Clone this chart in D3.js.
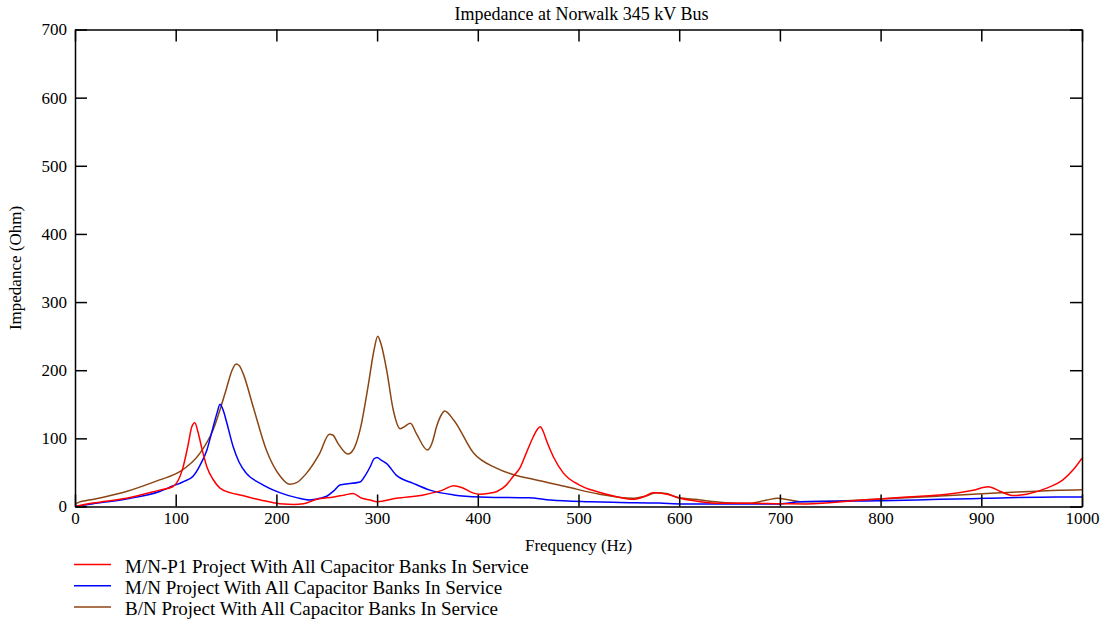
<!DOCTYPE html>
<html>
<head>
<meta charset="utf-8">
<script src="https://cdn.jsdelivr.net/npm/d3@7"></script>
<style>
  html, body { margin: 0; padding: 0; background: #fff; }
  svg text { font-family: "Liberation Serif", "Times New Roman", serif; fill: #000; }
</style>
</head>
<body>
<svg id="chart" width="1105" height="624"></svg>
<script>
// Frequency scan results: [frequency (Hz), impedance magnitude (Ohm)]
const seriesNames = [
  "M/N-P1 Project With All Capacitor Banks In Service",
  "M/N Project With All Capacitor Banks In Service",
  "B/N Project With All Capacitor Banks In Service"
];
const seriesColors = ["#ff0000", "#0000ff", "#8b4513"];

const mnp1Scan = [
  [0,0],[18,5],[51,12],[84,24],[97,29],[107,56],[112,88],[116,117],[119,123],[122,110],
  [126,85],[131,58],[137,40],[144,27],[155,20],[164,17],[180,11],[197,5.6],[207,3.5],[217,3],
  [227,4],[240,10.5],[257,14],[268,17],[276,19],[285,12],[293,9.5],[300,7],[319,12],[346,17],
  [365,24],[376,30.5],[384,28],[395,20],[402,18],[410,19],[419,22],[428,31],[435,44],[442,57],
  [448,78],[455,102],[459,113],[462,117],[465,110],[468,97.6],[475,73],[485,49],[501,31.5],[518,22],
  [535,15.4],[554,10.5],[566,15],[574,20],[588,18],[601,12],[621,7],[640,4.7],[670,4.7],[700,4],
  [726,3.7],[783,9.5],[826,14],[866,18],[892,24],[907,29],[919,22],[932,16],[945,18],[965,27],
  [981,39],[991,53.5],[1000,71]
];

const mnScan = [
  [0,0],[18,4],[51,11],[84,22],[97,30],[107,36],[117,44],[124,60],[131,83],[136,110],
  [141,137],[144,150],[147,142],[150,127],[157,88],[163,65],[170,49],[184,34],[204,20],[220,13],
  [233,9.5],[243,12],[250,15],[257,23],[263,31.5],[283,36],[288,45],[293,58],[297,70],[300,72],
  [304,68],[309.5,63],[319,46],[336,34],[352.5,24],[376,17],[402,14],[442,13],[450,13],[472,9.5],
  [511,7],[541,6],[580,5],[604,3.7],[670,3.7],[700,3.7],[720,7],[800,8.5],[859,10.5],[905,12],
  [975,14],[1000,14]
];

const bnScan = [
  [0,3],[2,5],[20,11],[51,22],[84,39],[104,51],[124,78],[137,112],[150,171],[156,200],
  [160,209],[163,207],[167,195],[177,146],[190,83],[204,44],[213,32.5],[220,35],[230,49],[243,78],
  [252.6,106],[256,105],[261,93],[271,77],[277,85],[283,112],[291,176],[297,230],[300.6,250],[304,238],
  [309.5,200],[316,142],[323,114],[328,118],[333,122],[339,107],[350,83],[355,95],[359,117],[364,135],
  [367,140],[376,127],[396,78],[419,56],[442,44],[455,40],[488,29],[521,18],[554,12],[566,15],
  [577,20],[587,19],[597,14],[621,9.5],[647,5.6],[670,4.7],[687,9.5],[698,12],[708,10],[720,7],
  [766,8.5],[800,11],[859,15.4],[919,20],[978,24],[1000,24.5]
];

const xTicks = [0, 100, 200, 300, 400, 500, 600, 700, 800, 900, 1000];
const yTicks = [0, 100, 200, 300, 400, 500, 600, 700];

const titleText = "Impedance at Norwalk 345 kV Bus";
const xLabelText = "Frequency (Hz)";
const yLabelText = "Impedance (Ohm)";

// ---- layout ----
const svg = d3.select("#chart");
const plot = { left: 75, right: 1082, top: 29.5, bottom: 506.5 };
const tickLen = 12;

const x = d3.scaleLinear().domain([0, 1000]).range([plot.left, plot.right]);
const y = d3.scaleLinear().domain([0, 700]).range([plot.bottom, plot.top]);

// ---- curves (clipped to plot box) ----
svg.append("clipPath").attr("id", "plotClip")
  .append("rect")
  .attr("x", plot.left).attr("y", plot.top)
  .attr("width", plot.right - plot.left).attr("height", plot.bottom - plot.top);

const line = d3.line()
  .x(d => x(d[0]))
  .y(d => y(d[1]))
  .curve(d3.curveMonotoneX);

const allSeries = [mnp1Scan, mnScan, bnScan];
const curves = svg.append("g").attr("clip-path", "url(#plotClip)");
// brown first, red last so red sits on top
[2, 1, 0].forEach(i => {
  curves.append("path")
    .datum(allSeries[i])
    .attr("fill", "none")
    .attr("stroke", seriesColors[i])
    .attr("stroke-width", 1.5)
    .attr("stroke-linejoin", "round")
    .attr("d", line);
});

// ---- axes: boxed frame with inward ticks on all sides ----
const axisFont = "17px";
const fmt = d3.format("d");

const gBottom = svg.append("g").attr("transform", `translate(0,${plot.bottom})`)
  .call(d3.axisBottom(x).tickValues(xTicks).tickFormat(fmt).tickSizeInner(-tickLen).tickSizeOuter(0).tickPadding(5));
const gTop = svg.append("g").attr("transform", `translate(0,${plot.top})`)
  .call(d3.axisTop(x).tickValues(xTicks).tickSizeInner(-tickLen).tickSizeOuter(0).tickFormat(""));
const gLeft = svg.append("g").attr("transform", `translate(${plot.left},0)`)
  .call(d3.axisLeft(y).tickValues(yTicks).tickFormat(fmt).tickSizeInner(-tickLen).tickSizeOuter(0).tickPadding(8));
const gRight = svg.append("g").attr("transform", `translate(${plot.right},0)`)
  .call(d3.axisRight(y).tickValues(yTicks).tickSizeInner(-tickLen).tickSizeOuter(0).tickFormat(""));

[gBottom, gTop, gLeft, gRight].forEach(g => {
  g.select(".domain").attr("stroke", "#000").attr("stroke-width", 1.5);
  g.selectAll(".tick line").attr("stroke", "#000").attr("stroke-width", 1.5);
  g.selectAll(".tick text")
    .attr("font-family", "Liberation Serif, Times New Roman, serif")
    .attr("font-size", axisFont)
    .attr("fill", "#000");
});

// ---- titles ----
svg.append("text")
  .attr("x", (plot.left + plot.right) / 2 + 3)
  .attr("y", 20)
  .attr("text-anchor", "middle")
  .attr("font-size", "18px")
  .text(titleText);

svg.append("text")
  .attr("x", (plot.left + plot.right) / 2)
  .attr("y", 551)
  .attr("text-anchor", "middle")
  .attr("font-size", "17px")
  .text(xLabelText);

svg.append("text")
  .attr("transform", `translate(21,${(plot.top + plot.bottom) / 2}) rotate(-90)`)
  .attr("text-anchor", "middle")
  .attr("font-size", "17px")
  .text(yLabelText);

// ---- legend ----
const legend = svg.append("g").attr("transform", "translate(74,564.5)");
seriesNames.forEach((name, i) => {
  const row = legend.append("g").attr("transform", `translate(0,${i * 21.2})`);
  row.append("line")
    .attr("x1", 0).attr("x2", 37)
    .attr("y1", 0).attr("y2", 0)
    .attr("stroke", seriesColors[i])
    .attr("stroke-width", 1.5);
  row.append("text")
    .attr("x", 51)
    .attr("y", 8.5)
    .attr("font-size", "19px")
    .text(name);
});
</script>
</body>
</html>
